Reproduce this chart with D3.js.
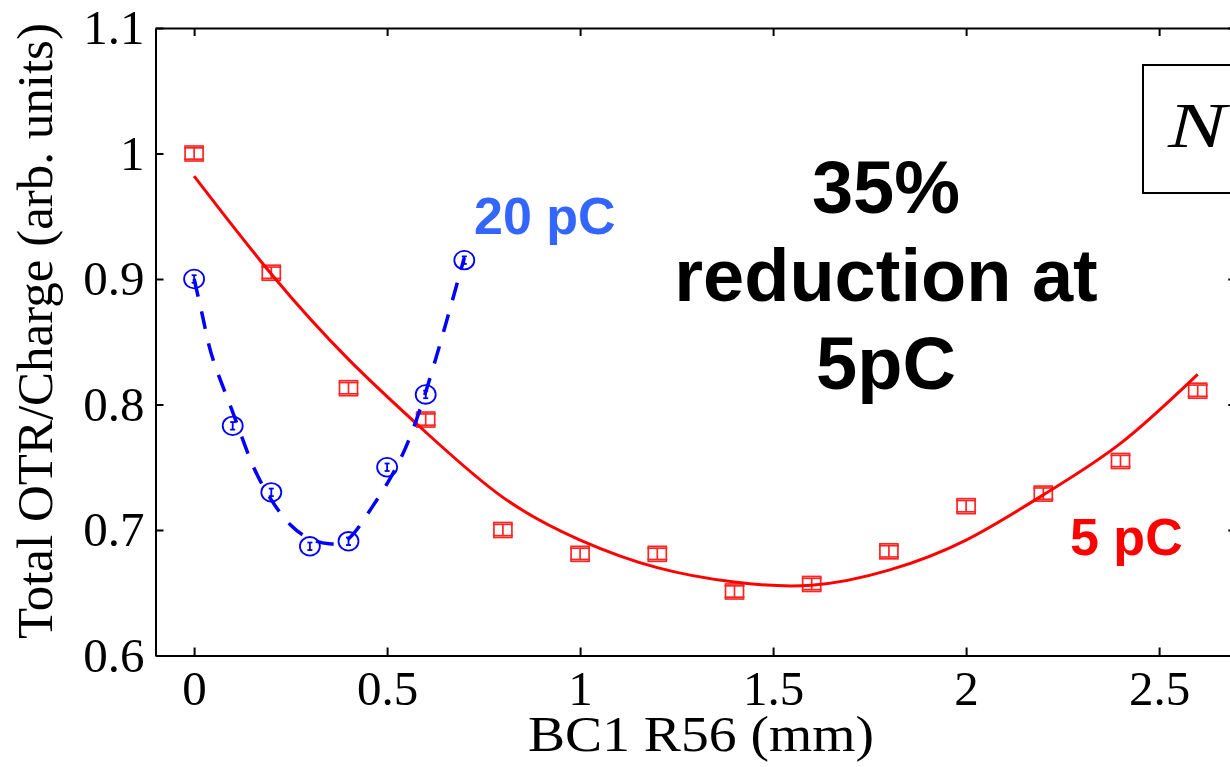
<!DOCTYPE html>
<html>
<head>
<meta charset="utf-8">
<script src="https://cdn.jsdelivr.net/npm/d3@7"></script>
<style>
  html, body { margin: 0; padding: 0; background: #fff; }
  svg { display: block; }
</style>
</head>
<body>
<svg id="chart" width="1230" height="767"></svg>
<script>
// Measured OTR yield per unit charge versus BC1 R56, two bunch charges.
const r56_5pC   = [0, 0.2, 0.4, 0.6, 0.8, 1.0, 1.2, 1.4, 1.6, 1.8, 2.0, 2.2, 2.4, 2.6];
const otr_5pC   = [1.000, 0.905, 0.813, 0.788, 0.700, 0.681, 0.681, 0.651, 0.657, 0.683, 0.719, 0.729, 0.755, 0.811];
const err_5pC   = [0.0045, 0.0045, 0.0045, 0.0045, 0.0045, 0.0045, 0.0045, 0.0045, 0.0045, 0.0045, 0.0045, 0.0045, 0.0045, 0.0045];

const r56_20pC  = [0, 0.1, 0.2, 0.3, 0.4, 0.5, 0.6, 0.7];
const otr_20pC  = [0.900, 0.783, 0.730, 0.687, 0.691, 0.750, 0.808, 0.915];
const err_20pC  = [0.003, 0.003, 0.003, 0.003, 0.003, 0.003, 0.003, 0.003];

// Fitted curves (sampled values of each fit)
const fit5_x    = [0, 0.2, 0.4, 0.6, 0.8, 1.0, 1.2, 1.4, 1.6, 1.8, 2.0, 2.2, 2.4, 2.6];
const fit5_y    = [0.982, 0.904, 0.836, 0.778, 0.726, 0.692, 0.670, 0.6585, 0.656, 0.668, 0.692, 0.728, 0.769, 0.824];
const fit20_x   = [0, 0.025, 0.05, 0.1, 0.15, 0.2, 0.25, 0.3, 0.35, 0.4, 0.45, 0.5, 0.55, 0.6, 0.65, 0.7];
const fit20_y   = [0.900, 0.866, 0.835, 0.794, 0.753, 0.724, 0.704, 0.693, 0.689, 0.693, 0.713, 0.737, 0.767, 0.810, 0.862, 0.917];

const xTicks = [0, 0.5, 1, 1.5, 2, 2.5];
const yTicks = [0.6, 0.7, 0.8, 0.9, 1.0, 1.1];
const xTickLabels = ["0", "0.5", "1", "1.5", "2", "2.5"];
const yTickLabels = ["0.6", "0.7", "0.8", "0.9", "1", "1.1"];

const RED = "#ff0000", BLUE = "#0000ff", LABEL_BLUE = "#3366ff";
const SERIF = "'Liberation Serif', 'Times New Roman', serif";
const SANS = "'Liberation Sans', Arial, sans-serif";

const svg = d3.select("#chart");
svg.append("rect").attr("width", 1230).attr("height", 767).attr("fill", "#fff");

const x = d3.scaleLinear().domain([-0.1, 2.7]).range([155.5, 1236.3]);
const y = d3.scaleLinear().domain([0.6, 1.1]).range([655.5, 28]);

// Axes (ticks point inward on all four sides)
const axisStyle = g => {
  g.selectAll("path.domain").attr("stroke", "#000").attr("stroke-width", 2);
  g.selectAll(".tick line").attr("stroke", "#000").attr("stroke-width", 2);
  g.selectAll(".tick text").attr("font-family", SERIF).attr("font-size", 49).attr("fill", "#000");
};

svg.append("g").attr("transform", `translate(0,${y(0.6)})`)
  .call(d3.axisBottom(x).tickValues(xTicks).tickSize(-8).tickSizeOuter(0).tickPadding(15)
    .tickFormat((d, i) => xTickLabels[i]))
  .call(axisStyle);

svg.append("g").attr("transform", `translate(0,${y(1.1)})`)
  .call(d3.axisTop(x).tickValues(xTicks).tickSize(-8).tickSizeOuter(0).tickFormat(""))
  .call(axisStyle);

svg.append("g").attr("transform", `translate(${x(-0.1)},0)`)
  .call(d3.axisLeft(y).tickValues(yTicks).tickSize(-8).tickSizeOuter(0).tickPadding(11)
    .tickFormat((d, i) => yTickLabels[i]))
  .call(axisStyle);

svg.append("g").attr("transform", `translate(${x(2.7)},0)`)
  .call(d3.axisRight(y).tickValues(yTicks).tickSize(-8).tickSizeOuter(0).tickFormat(""))
  .call(axisStyle);

// Axis titles
svg.append("text")
  .attr("x", 701).attr("y", 751)
  .attr("text-anchor", "middle")
  .attr("font-family", SERIF).attr("font-size", 50)
  .attr("textLength", 346).attr("lengthAdjust", "spacingAndGlyphs")
  .text("BC1 R56 (mm)");

svg.append("text")
  .attr("transform", "translate(52,331) rotate(-90)")
  .attr("text-anchor", "middle")
  .attr("font-family", SERIF).attr("font-size", 51)
  .text("Total OTR/Charge (arb. units)");

// 5 pC data: square markers with error bars
const red = r56_5pC.map((v, i) => ({ x: v, y: otr_5pC[i], e: err_5pC[i] }));
const redG = svg.append("g").attr("stroke", RED).attr("fill", "none").attr("stroke-width", 1.7).attr("opacity", 0.85);
red.forEach(d => {
  const cx = x(d.x), cy = y(d.y);
  redG.append("rect").attr("x", cx - 9).attr("y", cy - 7.5).attr("width", 18).attr("height", 15);
  redG.append("line").attr("x1", cx).attr("x2", cx).attr("y1", y(d.y + d.e)).attr("y2", y(d.y - d.e));
  redG.append("line").attr("x1", cx - 10).attr("x2", cx + 10).attr("y1", y(d.y + d.e)).attr("y2", y(d.y + d.e));
  redG.append("line").attr("x1", cx - 10).attr("x2", cx + 10).attr("y1", y(d.y - d.e)).attr("y2", y(d.y - d.e));
});

// 20 pC data: circle markers with error bars
const blue = r56_20pC.map((v, i) => ({ x: v, y: otr_20pC[i], e: err_20pC[i] }));
const blueG = svg.append("g").attr("stroke", BLUE).attr("fill", "none").attr("stroke-width", 1.8);
blue.forEach(d => {
  const cx = x(d.x), cy = y(d.y);
  blueG.append("ellipse").attr("cx", cx).attr("cy", cy).attr("rx", 10).attr("ry", 9.3);
  blueG.append("line").attr("x1", cx).attr("x2", cx).attr("y1", y(d.y + d.e)).attr("y2", y(d.y - d.e));
  blueG.append("line").attr("x1", cx - 2.5).attr("x2", cx + 2.5).attr("y1", y(d.y + d.e)).attr("y2", y(d.y + d.e));
  blueG.append("line").attr("x1", cx - 2.5).attr("x2", cx + 2.5).attr("y1", y(d.y - d.e)).attr("y2", y(d.y - d.e));
});

// Fit curves
const line = d3.line().x(d => x(d[0])).y(d => y(d[1])).curve(d3.curveNatural);

svg.append("path")
  .datum(fit5_x.map((v, i) => [v, fit5_y[i]]))
  .attr("d", line).attr("fill", "none").attr("stroke", RED).attr("stroke-width", 3);

svg.append("path")
  .datum(fit20_x.map((v, i) => [v, fit20_y[i]]))
  .attr("d", line).attr("fill", "none").attr("stroke", BLUE).attr("stroke-width", 3.5)
  .attr("stroke-dasharray", "18,15");

// Annotations
svg.append("text").attr("x", 474).attr("y", 234)
  .attr("font-family", SANS).attr("font-weight", "bold").attr("font-size", 52)
  .attr("fill", LABEL_BLUE).text("20 pC");

svg.append("text").attr("x", 1070).attr("y", 555)
  .attr("font-family", SANS).attr("font-weight", "bold").attr("font-size", 52)
  .attr("fill", RED).text("5 pC");

const note = ["35%", "reduction at", "5pC"];
const noteBase = [213, 301, 389];
note.forEach((t, i) => {
  svg.append("text").attr("x", 886).attr("y", noteBase[i])
    .attr("text-anchor", "middle")
    .attr("font-family", SANS).attr("font-weight", "bold").attr("font-size", 74)
    .attr("fill", "#000").text(t);
});

// Legend box
svg.append("rect").attr("x", 1143).attr("y", 65).attr("width", 200).attr("height", 128)
  .attr("fill", "#fff").attr("stroke", "#000").attr("stroke-width", 2);
svg.append("text").attr("x", 1168).attr("y", 147)
  .attr("font-family", SERIF).attr("font-style", "italic").attr("font-size", 63)
  .attr("textLength", 58).attr("lengthAdjust", "spacingAndGlyphs")
  .attr("fill", "#000").text("N");
</script>
</body>
</html>
